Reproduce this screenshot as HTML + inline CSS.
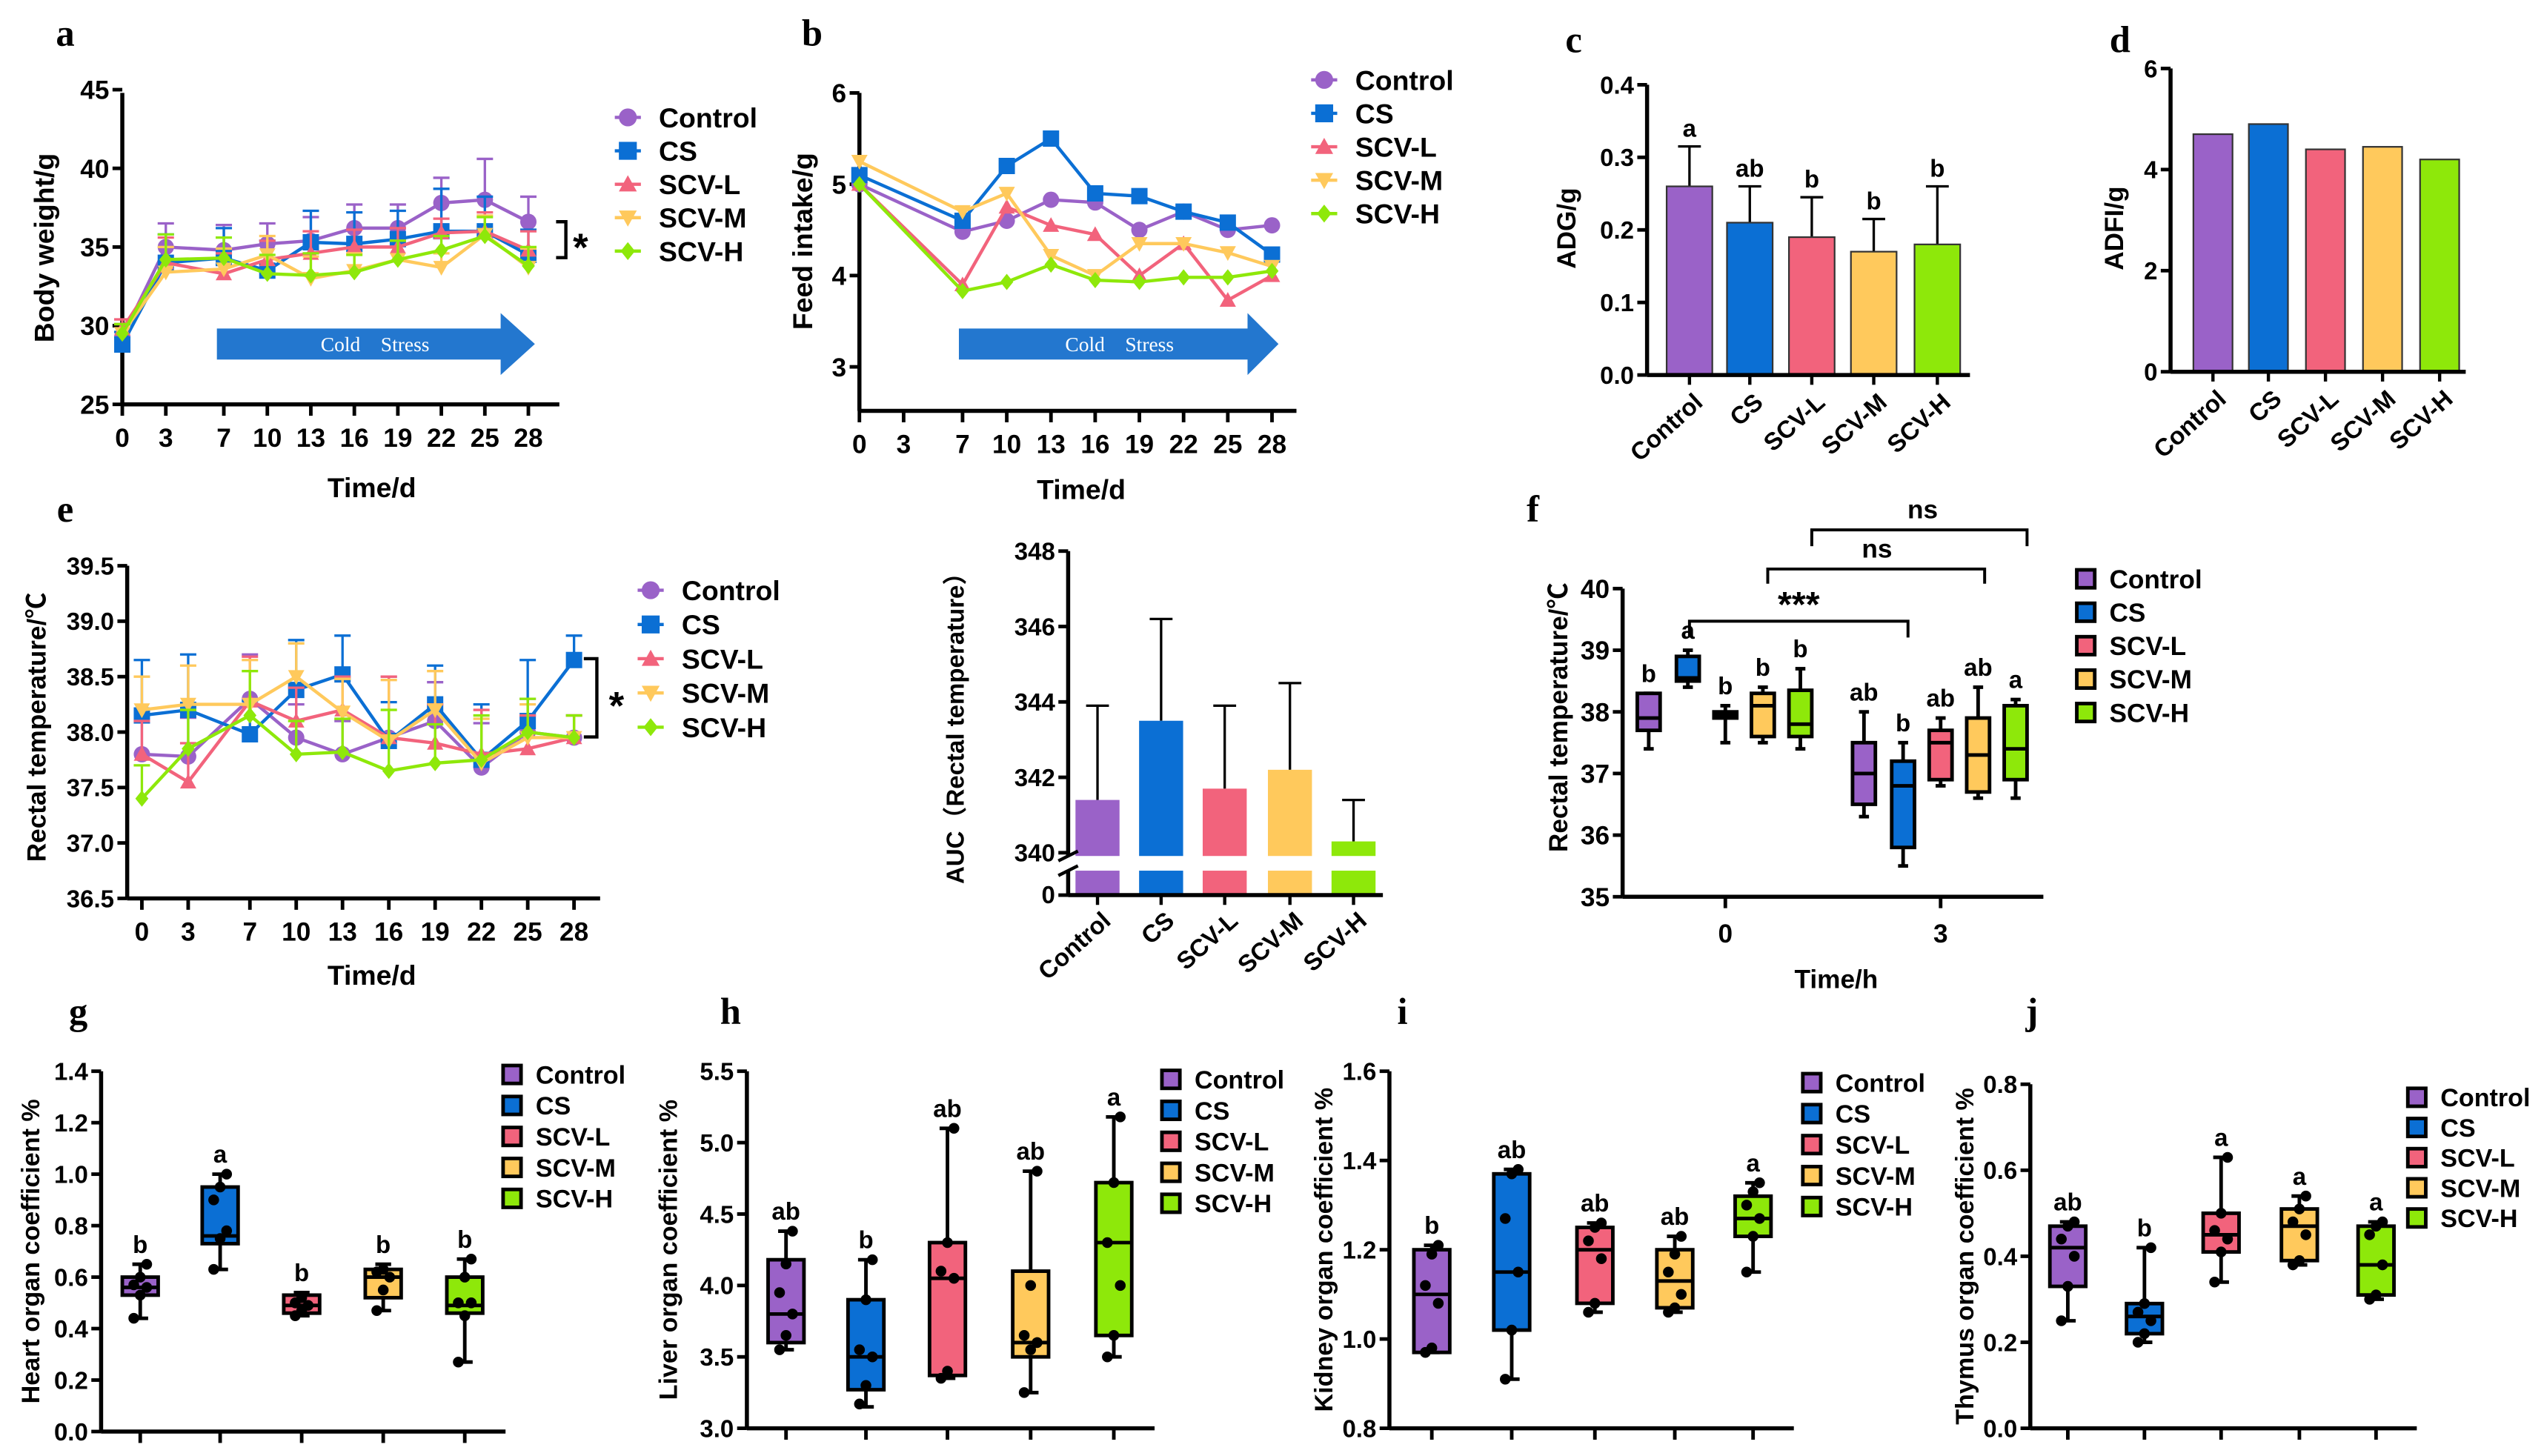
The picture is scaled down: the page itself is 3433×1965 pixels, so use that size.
<!DOCTYPE html>
<html><head><meta charset="utf-8"><style>
html,body{margin:0;padding:0;background:#fff;}
svg{display:block;}
</style></head><body>
<svg id="fig" xmlns="http://www.w3.org/2000/svg" width="3433" height="1965" viewBox="0 0 1560 893" preserveAspectRatio="none"></svg>
<script>
// ---------- data ----------
const groups = ['Control','CS','SCV-L','SCV-M','SCV-H'];
const colors = ['#9a62c8','#0b6fd4','#f2637c','#ffc95c','#8ee80a'];
const markers = ['circle','square','tri','tridown','diamond'];

// panel a
const aDays = [0,3,7,10,13,16,19,22,25,28];
const aCtrl = [29.3,35.0,34.8,35.2,35.4,36.2,36.2,37.8,38.0,36.6];
const aCS   = [28.8,34.0,34.3,33.5,35.3,35.2,35.5,36.0,36.0,34.5];
const aL    = [29.8,34.0,33.3,34.2,34.6,35.0,35.0,35.9,36.0,34.8];
const aM    = [29.5,33.4,33.6,34.5,33.0,33.5,34.2,33.7,35.8,33.7];
const aH    = [29.5,34.2,34.3,33.3,33.2,33.4,34.2,34.8,35.7,33.8];
const aErrCtrl = [0.8,1.5,1.6,1.3,1.5,1.5,1.5,1.6,2.6,1.6];
const aErrCS   = [0.8,1.8,1.9,1.9,2.0,2.0,1.8,2.7,2.2,1.6];
const aErrOther= [0.6,1.6,1.3,1.2,1.4,1.1,1.2,0.9,1.2,1.2];
const aYTicks = [25,30,35,40,45];

// panel b
const bDays = [0,7,10,13,16,19,22,25,28];
const bTicks = [0,3,7,10,13,16,19,22,25,28];
const bCtrl = [5.0,4.48,4.6,4.83,4.8,4.5,4.7,4.5,4.55];
const bCS   = [5.1,4.6,5.2,5.5,4.9,4.87,4.7,4.58,4.23];
const bL    = [5.0,3.9,4.75,4.55,4.45,4.0,4.35,3.73,4.0];
const bM    = [5.25,4.7,4.9,4.22,4.0,4.35,4.35,4.25,4.1];
const bH    = [5.0,3.83,3.93,4.12,3.95,3.93,3.98,3.98,4.05];
const bYTicks = [3,4,5,6];

// panel c
const cVals = [0.26,0.21,0.19,0.17,0.18];
const cErr  = [0.055,0.05,0.055,0.045,0.08];
const cLetters = ['a','ab','b','b','b'];
const cYTicks = [0.0,0.1,0.2,0.3,0.4];

// panel d
const dVals = [4.7,4.9,4.4,4.45,4.2];
const dYTicks = [0,2,4,6];

// panel e
const eDays = [0,3,7,10,13,16,19,22,25,28];
const eCtrl = [37.8,37.78,38.3,37.95,37.8,37.95,38.1,37.68,38.0,37.95];
const eCS   = [38.15,38.2,37.98,38.38,38.52,37.92,38.25,37.75,38.1,38.65];
const eL    = [37.8,37.55,38.28,38.1,38.2,37.95,37.9,37.8,37.85,37.95];
const eM    = [38.2,38.25,38.25,38.5,38.18,37.92,38.2,37.72,37.95,37.95];
const eH    = [37.4,37.85,38.15,37.8,37.82,37.65,37.72,37.75,38.0,37.95];
const eErrCS = [0.5,0.5,0.3,0.45,0.35,0.35,0.35,0.5,0.55,0.22];
const eErrOther = [0.3,0.35,0.4,0.3,0.3,0.55,0.35,0.4,0.3,0.2];
const eYTicks = [36.5,37.0,37.5,38.0,38.5,39.0,39.5];

// AUC
const aucVals = [341.4,343.5,341.7,342.2,340.3];
const aucErr  = [2.5,2.7,2.2,2.3,1.1];
const aucYTicks = [340,342,344,346,348];

// panel f boxes [min,q1,med,q3,max]
const f0 = [[37.4,37.7,37.9,38.3,38.3],[38.4,38.5,38.55,38.9,39.0],[37.5,37.9,37.95,38.0,38.1],[37.5,37.6,38.1,38.3,38.4],[37.4,37.6,37.8,38.35,38.7]];
const f3 = [[36.3,36.5,37.0,37.5,38.0],[35.5,35.8,36.8,37.2,37.5],[36.8,36.9,37.5,37.7,37.9],[36.6,36.7,37.3,37.9,38.4],[36.6,36.9,37.4,38.1,38.2]];
const fLetters0 = ['b','a','b','b','b'];
const fLetters3 = ['ab','b','ab','ab','a'];
const fYTicks = [35,36,37,38,39,40];

// organ panels
const gDots = [[0.44,0.53,0.56,0.57,0.6,0.65],[0.63,0.75,0.78,0.9,0.95,1.0],[0.45,0.47,0.49,0.5,0.52],[0.47,0.55,0.6,0.62,0.63],[0.27,0.45,0.5,0.5,0.6,0.67]];
const gBox = [[0.44,0.53,0.56,0.6,0.65],[0.63,0.73,0.76,0.95,1.0],[0.45,0.46,0.49,0.53,0.54],[0.47,0.52,0.6,0.63,0.65],[0.27,0.46,0.49,0.6,0.67]];
const gLetters = ['b','a','b','b','b'];
const gYTicks = [0.0,0.2,0.4,0.6,0.8,1.0,1.2,1.4];
const hDots = [[3.55,3.65,3.8,3.95,4.15,4.38],[3.17,3.3,3.5,3.55,3.9,4.18],[3.35,3.4,4.05,4.1,4.3,5.1],[3.25,3.55,3.6,3.65,4.0,4.8],[3.5,3.65,4.0,4.3,4.72,5.18]];
const hBox = [[3.55,3.6,3.8,4.18,4.38],[3.15,3.27,3.5,3.9,4.18],[3.35,3.37,4.05,4.3,5.1],[3.25,3.5,3.6,4.1,4.8],[3.5,3.65,4.3,4.72,5.18]];
const hLetters = ['ab','b','ab','ab','a'];
const hYTicks = [3.0,3.5,4.0,4.5,5.0,5.5];
const iDots = [[0.97,0.98,1.08,1.12,1.19,1.21],[0.91,1.02,1.15,1.27,1.37,1.38],[1.06,1.08,1.18,1.22,1.25,1.26],[1.06,1.07,1.1,1.15,1.19,1.23],[1.15,1.23,1.27,1.3,1.33,1.35]];
const iBox = [[0.97,0.97,1.1,1.2,1.21],[0.91,1.02,1.15,1.37,1.38],[1.06,1.08,1.2,1.25,1.26],[1.06,1.07,1.13,1.2,1.23],[1.15,1.23,1.27,1.32,1.35]];
const iLetters = ['b','ab','ab','ab','a'];
const iYTicks = [0.8,1.0,1.2,1.4,1.6];
const jDots = [[0.25,0.33,0.4,0.44,0.47,0.48],[0.2,0.22,0.25,0.27,0.29,0.42],[0.34,0.41,0.44,0.46,0.5,0.63],[0.38,0.39,0.45,0.48,0.51,0.54],[0.3,0.31,0.38,0.45,0.47,0.48]];
const jBox = [[0.25,0.33,0.42,0.47,0.48],[0.2,0.22,0.26,0.29,0.42],[0.34,0.41,0.45,0.5,0.63],[0.38,0.39,0.47,0.51,0.54],[0.3,0.31,0.38,0.47,0.48]];
const jLetters = ['ab','b','a','a','a'];
const jYTicks = [0.0,0.2,0.4,0.6,0.8];

// ---------- helpers ----------
const NS = 'http://www.w3.org/2000/svg';
const root = document.getElementById('fig');
const SANS = '"Liberation Sans", "Noto Sans CJK SC", sans-serif';
const SERIF = '"Liberation Serif", serif';
function mk(tag, attrs, name, parent){
  const el = document.createElementNS(NS, tag);
  for (const k in attrs) el.setAttribute(k, attrs[k]);
  
  
  (parent || root).appendChild(el);
  return el;
}
function txt(x, y, s, size, name, o){
  o = o || {};
  const a = {x:x, y:y, 'font-size':size, 'font-weight':o.w || 'bold', 'font-family':o.f || SANS, 'text-anchor':o.a || 'middle', fill:o.fill || '#000'};
  if (o.rot) a.transform = 'rotate(' + o.rot + ' ' + x + ' ' + y + ')';
  const t = mk('text', a, name, o.p);
  t.textContent = s;
  return t;
}
function lin(d0, d1, r0, r1){ return v => r0 + (v - d0) * (r1 - r0) / (d1 - d0); }
function ln(x1,y1,x2,y2,name,sw,col){ return mk('line',{x1:x1,y1:y1,x2:x2,y2:y2,stroke:col||'#000','stroke-width':sw||2.2},name); }
function yAxis(x, ys, ticks, name, size, fmt, top, bot){
  ln(x, top !== undefined ? top : ys(ticks[ticks.length-1]), x, bot !== undefined ? bot : ys(ticks[0]), name + '-line', 2.5);
  ticks.forEach(t => {
    ln(x - 6, ys(t), x, ys(t), name + '-tick', 2.2);
    txt(x - 8, ys(t) + size * 0.36, fmt(t), size, name + '-label', {a:'end'});
  });
}
function marker(x, y, type, col, name, s){
  s = s || 5.5;
  if (type === 'circle') return mk('circle',{cx:x,cy:y,r:s,fill:col},name);
  if (type === 'square') return mk('rect',{x:x-s,y:y-s,width:2*s,height:2*s,fill:col},name);
  if (type === 'tri') return mk('polygon',{points:`${x},${y-s} ${x+s},${y+s*0.8} ${x-s},${y+s*0.8}`,fill:col},name);
  if (type === 'tridown') return mk('polygon',{points:`${x},${y+s} ${x+s},${y-s*0.8} ${x-s},${y-s*0.8}`,fill:col},name);
  return mk('polygon',{points:`${x},${y-s} ${x+s*0.8},${y} ${x},${y+s} ${x-s*0.8},${y}`,fill:col},name);
}
function lineLegend(x, y0, dy, size, prefix){
  groups.forEach((g, i) => {
    const y = y0 + i * dy;
    ln(x - 8, y, x + 8, y, prefix + '-legend-line', 2, colors[i]);
    marker(x, y, markers[i], colors[i], prefix + '-legend-marker', 5.5);
    txt(x + 19, y + size * 0.36, g, size, prefix + '-legend-label', {a:'start'});
  });
}
function boxLegend(x, y0, dy, size, prefix, sq){
  groups.forEach((g, i) => {
    const y = y0 + i * dy;
    mk('rect',{x:x-sq/2,y:y-sq/2,width:sq,height:sq,fill:colors[i],stroke:'#000','stroke-width':2.2}, prefix + '-legend-swatch');
    txt(x + sq/2 + 9, y + size * 0.36, g, size, prefix + '-legend-label', {a:'start'});
  });
}
function series(xs, days, vals, i, name, errs){
  const pts = days.map((d, k) => xs.x(d) + ',' + xs.y(vals[k])).join(' ');
  if (errs) days.forEach((d, k) => {
    const x = xs.x(d), y1 = xs.y(vals[k]), y2 = xs.y(vals[k] + errs[k]);
    ln(x, y1, x, y2, name + '-error-bar', 1.5, colors[i]);
    ln(x - 5, y2, x + 5, y2, name + '-error-cap', 1.5, colors[i]);
  });
  mk('polyline',{points:pts,fill:'none',stroke:colors[i],'stroke-width':2},name + '-line');
  days.forEach((d, k) => marker(xs.x(d), xs.y(vals[k]), markers[i], colors[i], name + '-point', 5));
}
function xDayAxis(x0, x1, y, xs, ticks, prefix, size){
  ln(x0, y, x1, y, prefix + '-x-axis-line', 2.5);
  ticks.forEach(t => {
    ln(xs(t), y, xs(t), y + 7, prefix + '-x-tick', 2.2);
    txt(xs(t), y + 10 + size, String(t), size, prefix + '-x-label');
  });
}
function arrow(x0, x1, tip, yc, prefix){
  mk('polygon',{points:`${x0},${yc-9.5} ${x1},${yc-9.5} ${x1},${yc-19} ${tip},${yc} ${x1},${yc+19} ${x1},${yc+9.5} ${x0},${yc+9.5}`,fill:'#2377cf'},prefix + '-cold-stress-arrow');
  txt((x0 + x1) / 2 + 10, yc + 4.5, 'Cold\u00a0\u00a0\u00a0\u00a0Stress', 12.5, prefix + '-cold-stress-label', {w:'normal', f:SERIF, fill:'#fff', a:'middle'});
}
function rotLabels(xs, y, prefix, size){
  groups.forEach((g, i) => {
    txt(xs[i] + 9, y, g, size, prefix + '-x-label', {a:'end', rot:-42});
  });
}
function boxes(cx, ys, data, w, prefix, dots, letters, dotR){
  data.forEach((b, i) => {
    const x = cx[i];
    ln(x, ys(b[0]), x, ys(b[4]), prefix + '-whisker', 2.2);
    ln(x - w*0.22, ys(b[0]), x + w*0.22, ys(b[0]), prefix + '-whisker-cap', 2.2);
    ln(x - w*0.22, ys(b[4]), x + w*0.22, ys(b[4]), prefix + '-whisker-cap', 2.2);
    mk('rect',{x:x-w/2,y:ys(b[3]),width:w,height:Math.max(1,ys(b[1])-ys(b[3])),fill:colors[i],stroke:'#000','stroke-width':2.2},prefix + '-box-' + groups[i].toLowerCase());
    ln(x - w/2, ys(b[2]), x + w/2, ys(b[2]), prefix + '-median', 2.2);
    if (dots) dots[i].forEach((v, k) => mk('circle',{cx:x + ((k % 3) - 1) * w * 0.18,cy:ys(v),r:dotR||3.2,fill:'#000'},prefix + '-dot'));
    if (letters) txt(x, ys(b[4]) - 7, letters[i], 15, prefix + '-significance-letter');
  });
}

// ---------- panel letters ----------
[['a',40,28],['b',498,28],['c',965,32],['d',1300,32],['e',40,320],['f',940,320],['g',48,628],['h',448,628],['i',860,628],['j',1246,628]].forEach(p => {
  txt(p[1], p[2], p[0], 23, 'panel-label-' + p[0], {f:SERIF});
});

// ---------- panel a ----------
(function(){
  const xs = {x:lin(0,28,75,324), y:lin(25,45,248,55)};
  arrow(133, 307, 328, 211, 'a');
  yAxis(75, xs.y, aYTicks, 'a-y-axis', 16, String, 57, 248);
  xDayAxis(75, 343, 248, xs.x, aDays, 'a', 16);
  txt(228, 305, 'Time/d', 17, 'a-x-axis-title');
  txt(33, 152, 'Body weight/g', 17, 'a-y-axis-title', {rot:-90});
  const errs = [aErrCtrl, aErrCS, aErrOther, aErrOther, aErrOther];
  [aCtrl, aCS, aL, aM, aH].forEach((v, i) => series(xs, aDays, v, i, 'a-' + groups[i].toLowerCase(), errs[i]));
  lineLegend(385, 72, 20.5, 17, 'a');
  mk('polyline',{points:'341,136 347,136 347,158 341,158',fill:'none',stroke:'#000','stroke-width':2},'a-significance-bracket');
  txt(356, 160, '*', 24, 'a-significance-star');
})();

// ---------- panel b ----------
(function(){
  const xs = {x:lin(0,28,527,780), y:lin(3,6,225,57)};
  arrow(588, 765, 784, 211, 'b');
  yAxis(527, xs.y, bYTicks, 'b-y-axis', 16, String, 57, 252);
  xDayAxis(527, 795, 252, xs.x, bTicks, 'b', 16);
  txt(663, 306, 'Time/d', 17, 'b-x-axis-title');
  txt(498, 148, 'Feed intake/g', 17, 'b-y-axis-title', {rot:-90});
  [bCtrl, bCS, bL, bM, bH].forEach((v, i) => series(xs, bDays, v, i, 'b-' + groups[i].toLowerCase(), null));
  lineLegend(812, 49, 20.5, 17, 'b');
})();

// ---------- panel c ----------
(function(){
  const ys = lin(0,0.4,230,52);
  const cx = [1036,1073,1111,1149,1188];
  groups.forEach((g, i) => {
    const y = ys(cVals[i]), ye = ys(cVals[i] + cErr[i]);
    ln(cx[i], y, cx[i], ye, 'c-error-bar', 1.5);
    ln(cx[i]-7, ye, cx[i]+7, ye, 'c-error-cap', 1.5);
    mk('rect',{x:cx[i]-14,y:y,width:28,height:230-y,fill:colors[i],stroke:'#333','stroke-width':1},'c-bar-' + g.toLowerCase());
    txt(cx[i], ye - 6, cLetters[i], 15, 'c-significance-letter');
  });
  yAxis(1010, ys, cYTicks, 'c-y-axis', 15, v => v.toFixed(1), 52, 230);
  ln(1010, 230, 1208, 230, 'c-x-axis-line', 2.5);
  cx.forEach(x => ln(x, 230, x, 236, 'c-x-tick', 2));
  rotLabels(cx, 248, 'c', 15);
  txt(966, 140, 'ADG/g', 16, 'c-y-axis-title', {rot:-90});
})();

// ---------- panel d ----------
(function(){
  const ys = lin(0,6,228,42);
  const cx = [1357,1391,1426,1461,1496];
  groups.forEach((g, i) => {
    const y = ys(dVals[i]);
    mk('rect',{x:cx[i]-12,y:y,width:24,height:228-y,fill:colors[i],stroke:'#333','stroke-width':1},'d-bar-' + g.toLowerCase());
  });
  yAxis(1331, ys, dYTicks, 'd-y-axis', 15, String, 42, 228);
  ln(1331, 228, 1512, 228, 'd-x-axis-line', 2.5);
  cx.forEach(x => ln(x, 228, x, 234, 'd-x-tick', 2));
  rotLabels(cx, 246, 'd', 15);
  txt(1302, 140, 'ADFI/g', 16, 'd-y-axis-title', {rot:-90});
})();

// ---------- panel e ----------
(function(){
  const xs = {x:lin(0,28,87,352), y:lin(36.5,39.5,551,347)};
  yAxis(78, xs.y, eYTicks, 'e-y-axis', 15, v => v.toFixed(1), 347, 551);
  xDayAxis(78, 368, 551, xs.x, eDays, 'e', 16);
  txt(228, 604, 'Time/d', 17, 'e-x-axis-title');
  txt(28, 446, 'Rectal temperature/\u2103', 16, 'e-y-axis-title', {rot:-90});
  const errs = [eErrOther, eErrCS, eErrOther, eErrOther, eErrOther];
  [eCtrl, eCS, eL, eM, eH].forEach((v, i) => series(xs, eDays, v, i, 'e-' + groups[i].toLowerCase(), errs[i]));
  lineLegend(399, 362, 21, 17, 'e');
  mk('polyline',{points:'358,404 366,404 366,452 358,452',fill:'none',stroke:'#000','stroke-width':2},'e-significance-bracket');
  txt(378, 441, '*', 24, 'e-significance-star');
})();

// ---------- AUC ----------
(function(){
  const ys = lin(340,348,523,338);
  const cx = [673,712,751,791,830];
  groups.forEach((g, i) => {
    const y = ys(aucVals[i]), ye = ys(aucVals[i] + aucErr[i]);
    ln(cx[i], y, cx[i], ye, 'auc-error-bar', 1.5);
    ln(cx[i]-7, ye, cx[i]+7, ye, 'auc-error-cap', 1.5);
    mk('rect',{x:cx[i]-13.5,y:y,width:27,height:549-y,fill:colors[i]},'auc-bar-' + g.toLowerCase());
  });
  mk('rect',{x:640,y:525,width:215,height:9,fill:'#fff'},'auc-axis-break-gap');
  yAxis(655, ys, aucYTicks, 'auc-y-axis', 15, String, 338, 525);
  ln(655, 534, 655, 549, 'auc-y-axis-lower-line', 2.5);
  ln(649, 549, 655, 549, 'auc-y-tick-zero', 2.2);
  txt(647, 554, '0', 15, 'auc-y-label-zero', {a:'end'});
  ln(649, 528, 661, 522, 'auc-break-mark', 2);
  ln(649, 537, 661, 531, 'auc-break-mark', 2);
  ln(655, 549, 848, 549, 'auc-x-axis-line', 2.5);
  cx.forEach(x => ln(x, 549, x, 555, 'auc-x-tick', 2));
  rotLabels(cx, 566, 'auc', 15);
  txt(591, 443, 'AUC\uff08Rectal temperature\uff09', 15, 'auc-y-axis-title', {rot:-90, f:SANS});
})();

// ---------- panel f ----------
(function(){
  const ys = lin(35,40,550,361);
  const cx0 = [1011,1035,1058,1081,1104];
  const cx3 = [1143,1167,1190,1213,1236];
  yAxis(995, ys, fYTicks, 'f-y-axis', 16, String, 361, 550);
  ln(995, 550, 1253, 550, 'f-x-axis-line', 2.5);
  ln(1058, 550, 1058, 557, 'f-x-tick', 2.2);
  ln(1190, 550, 1190, 557, 'f-x-tick', 2.2);
  txt(1058, 578, '0', 16, 'f-x-label');
  txt(1190, 578, '3', 16, 'f-x-label');
  txt(1126, 606, 'Time/h', 16, 'f-x-axis-title');
  txt(961, 440, 'Rectal temperature/\u2103', 16, 'f-y-axis-title', {rot:-90});
  boxes(cx0, ys, f0, 14, 'f-0h', null, fLetters0);
  boxes(cx3, ys, f3, 14, 'f-3h', null, fLetters3);
  mk('polyline',{points:'1036,391 1036,381 1170,381 1170,391',fill:'none',stroke:'#000','stroke-width':1.8},'f-bracket-cs0-cs3');
  txt(1103, 378, '***', 22, 'f-significance-stars');
  mk('polyline',{points:'1084,358 1084,349 1217,349 1217,358',fill:'none',stroke:'#000','stroke-width':1.8},'f-bracket-ns-1');
  txt(1151, 342, 'ns', 16, 'f-ns-label');
  mk('polyline',{points:'1111,335 1111,325 1243,325 1243,335',fill:'none',stroke:'#000','stroke-width':1.8},'f-bracket-ns-2');
  txt(1179, 318, 'ns', 16, 'f-ns-label');
  boxLegend(1279, 355, 20.5, 16, 'f', 11);
})();

// ---------- organ box panels ----------
function organPanel(p, axisX, top, bot, vmin, vmax, ticks, cx, box, dots, letters, legX, legY, legDy, title, titleX, fmt){
  const ys = lin(vmin, vmax, bot, top);
  boxes(cx, ys, box, 22, p, dots, letters, 3.3);
  yAxis(axisX, ys, ticks, p + '-y-axis', 15, fmt, top, bot);
  ln(axisX, bot, cx[4] + 25, bot, p + '-x-axis-line', 2.5);
  cx.forEach(x => ln(x, bot, x, bot + 7, p + '-x-tick', 2.2));
  txt(titleX, (top + bot) / 2, title, 15.5, p + '-y-axis-title', {rot:-90});
  boxLegend(legX, legY, legDy, 15.5, p, 11);
}
organPanel('g', 62, 657, 878, 0, 1.4, gYTicks, [86,135,185,235,285], gBox, gDots, gLetters, 314, 659, 19, 'Heart organ coefficient %', 24, v => v.toFixed(1));
organPanel('h', 458, 657, 876, 3.0, 5.5, hYTicks, [482,531,581,632,683], hBox, hDots, hLetters, 718, 662, 19, 'Liver organ coefficient %', 415, v => v.toFixed(1));
organPanel('i', 852, 657, 876, 0.8, 1.6, iYTicks, [878,927,978,1027,1075], iBox, iDots, iLetters, 1111, 664, 19, 'Kidney organ coefficient %', 817, v => v.toFixed(1));
organPanel('j', 1245, 665, 876, 0.0, 0.8, jYTicks, [1268,1315,1362,1410,1457], jBox, jDots, jLetters, 1482, 673, 18.5, 'Thymus organ coefficient %', 1210, v => v.toFixed(1));
</script>
</body></html>
